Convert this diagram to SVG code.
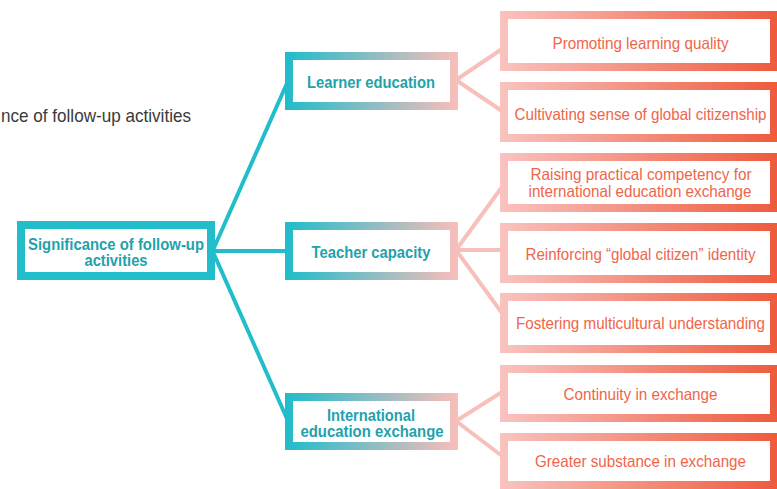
<svg xmlns="http://www.w3.org/2000/svg" width="777" height="489" viewBox="0 0 777 489">
  <defs>
    <linearGradient id="gMid" gradientUnits="userSpaceOnUse" x1="285" y1="0" x2="458" y2="0">
      <stop offset="0" stop-color="#1fbccb"/>
      <stop offset="1" stop-color="#f9beba"/>
    </linearGradient>
    <linearGradient id="gLeaf" gradientUnits="userSpaceOnUse" x1="500" y1="0" x2="778" y2="0">
      <stop offset="0" stop-color="#f9c3c0"/>
      <stop offset="1" stop-color="#ee5a3c"/>
    </linearGradient>
    <style>
      .root { fill: #ffffff; stroke: #22bdcb; stroke-width: 8; }
      .mid { fill: #ffffff; stroke: url(#gMid); stroke-width: 8; }
      .leaf { fill: #ffffff; stroke: url(#gLeaf); stroke-width: 8; }
      .t-root { font-family: "Liberation Sans", Arial, sans-serif; font-weight: bold; font-size: 16px; fill: #1fa2ad; text-anchor: middle; }
      .t-mid { font-family: "Liberation Sans", Arial, sans-serif; font-weight: bold; font-size: 16px; fill: #1fa2ad; text-anchor: middle; }
      .t-leaf { font-family: "Liberation Sans", Arial, sans-serif; font-size: 16.5px; fill: #f0654a; text-anchor: middle; }
      .t-head { font-family: "Liberation Sans", Arial, sans-serif; font-size: 19px; fill: #3a3a3a; }
      .c-teal { stroke: #22bdcb; stroke-width: 4; fill: none; }
      .c-pink { stroke: #f8c0bb; stroke-width: 4; fill: none; }
    </style>
  </defs>

  <rect width="777" height="489" fill="#ffffff"/>

  <text class="t-head" x="1" y="122" textLength="190" lengthAdjust="spacingAndGlyphs">nce of follow-up activities</text>

  <!-- connectors -->
  <g id="connectors">
    <line class="c-teal" x1="213" y1="250" x2="288" y2="81"/>
    <line class="c-teal" x1="213" y1="251" x2="288" y2="251"/>
    <line class="c-teal" x1="213" y1="252" x2="288" y2="421"/>
    <line class="c-pink" x1="456" y1="80" x2="502" y2="49"/>
    <line class="c-pink" x1="456" y1="80" x2="502" y2="111"/>
    <line class="c-pink" x1="456" y1="250" x2="502" y2="187"/>
    <line class="c-pink" x1="456" y1="250" x2="502" y2="250"/>
    <line class="c-pink" x1="456" y1="250" x2="502" y2="313"/>
    <line class="c-pink" x1="456" y1="421" x2="502" y2="392"/>
    <line class="c-pink" x1="456" y1="421" x2="502" y2="456"/>
  </g>

  <!-- root -->
  <g id="node-root">
    <rect class="root" x="21" y="225" width="190" height="51"/>
    <text class="t-root" x="116" y="250" textLength="176" lengthAdjust="spacingAndGlyphs">Significance of follow-up</text>
    <text class="t-root" x="116" y="265.5" textLength="63" lengthAdjust="spacingAndGlyphs">activities</text>
  </g>

  <!-- second level -->
  <g id="node-learner">
    <rect class="mid" x="289" y="56" width="165" height="50"/>
    <text class="t-mid" x="371" y="87.5" textLength="128" lengthAdjust="spacingAndGlyphs">Learner education</text>
  </g>
  <g id="node-teacher">
    <rect class="mid" x="289" y="226" width="165" height="50"/>
    <text class="t-mid" x="371" y="257.5" textLength="119" lengthAdjust="spacingAndGlyphs">Teacher capacity</text>
  </g>
  <g id="node-exchange">
    <rect class="mid" x="289" y="397" width="165" height="49"/>
    <text class="t-mid" x="371" y="420.5" textLength="88" lengthAdjust="spacingAndGlyphs">International</text>
    <text class="t-mid" x="372" y="436.5" textLength="143" lengthAdjust="spacingAndGlyphs">education exchange</text>
  </g>

  <!-- third level -->
  <g id="node-quality">
    <rect class="leaf" x="504" y="15" width="270" height="52"/>
    <text class="t-leaf" x="640.5" y="48.5" textLength="176" lengthAdjust="spacingAndGlyphs">Promoting learning quality</text>
  </g>
  <g id="node-citizenship">
    <rect class="leaf" x="504" y="86" width="270" height="52"/>
    <text class="t-leaf" x="640.5" y="120" textLength="252" lengthAdjust="spacingAndGlyphs">Cultivating sense of global citizenship</text>
  </g>
  <g id="node-competency">
    <rect class="leaf" x="504" y="157" width="270" height="51"/>
    <text class="t-leaf" x="641" y="180" textLength="221" lengthAdjust="spacingAndGlyphs">Raising practical competency for</text>
    <text class="t-leaf" x="640" y="197" textLength="223" lengthAdjust="spacingAndGlyphs">international education exchange</text>
  </g>
  <g id="node-identity">
    <rect class="leaf" x="504" y="227" width="270" height="52"/>
    <text class="t-leaf" x="640.5" y="260" textLength="230" lengthAdjust="spacingAndGlyphs">Reinforcing “global citizen” identity</text>
  </g>
  <g id="node-multicultural">
    <rect class="leaf" x="504" y="297" width="270" height="52"/>
    <text class="t-leaf" x="640.5" y="328.5" textLength="249" lengthAdjust="spacingAndGlyphs">Fostering multicultural understanding</text>
  </g>
  <g id="node-continuity">
    <rect class="leaf" x="504" y="369" width="270" height="49"/>
    <text class="t-leaf" x="640.5" y="400" textLength="154" lengthAdjust="spacingAndGlyphs">Continuity in exchange</text>
  </g>
  <g id="node-substance">
    <rect class="leaf" x="504" y="437" width="270" height="48"/>
    <text class="t-leaf" x="640.5" y="466.5" textLength="211" lengthAdjust="spacingAndGlyphs">Greater substance in exchange</text>
  </g>
</svg>
